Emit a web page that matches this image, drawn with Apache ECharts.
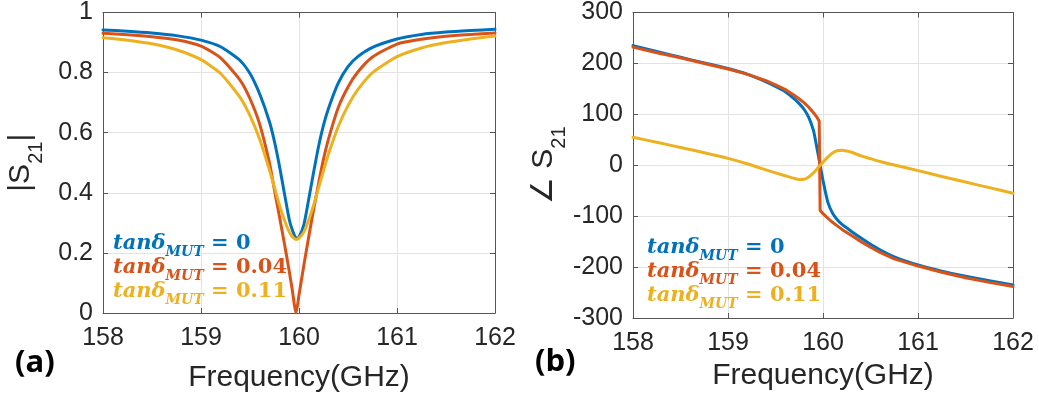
<!DOCTYPE html>
<html>
<head>
<meta charset="utf-8">
<script src="https://cdn.jsdelivr.net/npm/echarts@6/dist/echarts.min.js"></script>
<style>
html,body{margin:0;padding:0;background:#fff;}
#c{width:1039px;height:402px;}
</style>
</head>
<body>
<div id="c"></div>
<script>
// ---- Data ----
const xTicks = [158, 159, 160, 161, 162];

// Panel (a): |S21|
const freqMag = [158, 158.25, 158.5, 158.75, 159, 159.2, 159.4, 159.5, 159.6, 159.7, 159.75, 159.8, 159.85, 159.9, 159.93, 159.97, 160, 160.05, 160.1, 160.15, 160.2, 160.25, 160.3, 160.4, 160.5, 160.6, 160.75, 161, 161.25, 161.5, 161.75, 162];
const magBlue   = [0.942, 0.938, 0.932, 0.923, 0.908, 0.886, 0.840, 0.797, 0.728, 0.635, 0.570, 0.490, 0.400, 0.312, 0.278, 0.250, 0.253, 0.294, 0.380, 0.470, 0.555, 0.625, 0.680, 0.765, 0.820, 0.853, 0.884, 0.912, 0.927, 0.935, 0.940, 0.944];
const magRed    = [0.931, 0.926, 0.919, 0.909, 0.888, 0.849, 0.774, 0.713, 0.627, 0.497, 0.408, 0.322, 0.233, 0.140, 0.080, 0.000, 0.060, 0.160, 0.255, 0.346, 0.432, 0.512, 0.578, 0.683, 0.752, 0.802, 0.852, 0.895, 0.911, 0.921, 0.927, 0.932];
const magYellow = [0.916, 0.908, 0.896, 0.876, 0.843, 0.797, 0.717, 0.657, 0.577, 0.474, 0.417, 0.360, 0.310, 0.270, 0.255, 0.245, 0.249, 0.270, 0.310, 0.360, 0.417, 0.474, 0.528, 0.620, 0.690, 0.743, 0.800, 0.853, 0.882, 0.900, 0.912, 0.922];

// Panel (b): phase of S21 (degrees)
const freqPhase = [158, 158.25, 158.5, 158.75, 159, 159.2, 159.4, 159.5, 159.6, 159.7, 159.75, 159.8, 159.85, 159.9, 159.93, 159.96, 159.97, 160, 160.05, 160.1, 160.15, 160.2, 160.25, 160.3, 160.4, 160.5, 160.6, 160.75, 161, 161.25, 161.5, 161.75, 162];
const phaseBlue   = [235, 223.5, 212, 201, 190, 179, 164, 155, 145, 130, 121, 110, 94, 68, 40, 10, 0, -30, -72, -94, -107, -116, -123, -130, -143, -155, -166, -180, -196, -208, -218, -227, -235];
const phaseRed    = [232, 221, 211, 200, 189, 179, 166, 158, 149, 137, 130, 123, 114, 103, 96, 87, -89, -95, -104, -112, -119, -126, -132, -138, -150, -161, -171, -184, -198, -210, -221, -230, -238];
const phaseYellow = [55, 45, 35, 24.5, 13.5, 3, -9, -15, -20.5, -26, -27.8, -27.5, -23, -15, -9, -2, 0, 6, 16, 24, 28.5, 29.5, 28, 25.5, 18.5, 13, 7.5, 0.5, -10.5, -22, -33, -44, -55];

const legendNames = ['0', '0.04', '0.11'];
const colors = ['#0072BD', '#D95319', '#EDB120'];

// ---- Chart ----
const chart = echarts.init(document.getElementById('c'), null, {renderer: 'canvas'});
const FONT = "'Liberation Sans', Arial, sans-serif";
const TXT = '#262626';

function pairs(xs, ys) { return xs.map((x, i) => [x, ys[i]]); }

function xAxisDef(grid, pos, show, gap) {
  return {
    type: 'value', gridIndex: grid, position: pos, min: 158, max: 162, interval: 1,
    axisLine: {show: true, onZero: false, lineStyle: {color: '#555', width: 1}},
    axisTick: {show: true, inside: true, length: 5, lineStyle: {color: '#555'}},
    axisLabel: {show: show, fontFamily: FONT, fontSize: 25, color: TXT, margin: 13},
    splitLine: {show: show, lineStyle: {color: '#e3e3e3', width: 1}},
    name: show ? 'Frequency(GHz)' : '', nameLocation: 'middle', nameGap: gap || 0,
    nameTextStyle: {fontFamily: FONT, fontSize: 30, color: TXT}
  };
}
function yAxisDef(grid, pos, show, min, max, interval, nameRich, gap) {
  return {
    type: 'value', gridIndex: grid, position: pos, min: min, max: max, interval: interval,
    axisLine: {show: true, onZero: false, lineStyle: {color: '#555', width: 1}},
    axisTick: {show: true, inside: true, length: 5, lineStyle: {color: '#555'}},
    axisLabel: {show: show, fontFamily: FONT, fontSize: 25, color: TXT, margin: 10},
    splitLine: {show: show, lineStyle: {color: '#e3e3e3', width: 1}},
    name: show ? nameRich : '', nameLocation: 'middle', nameGap: gap, nameRotate: 90,
    nameTextStyle: {
      fontFamily: FONT, color: TXT,
      rich: {
        n: {fontFamily: FONT, fontSize: 30, color: TXT, lineHeight: 40, verticalAlign: 'top'},
        s: {fontFamily: FONT, fontSize: 20, color: TXT, lineHeight: 20, verticalAlign: 'bottom'}
      }
    }
  };
}

function lineSeries(xi, yi, data, color, smooth) {
  return {
    type: 'line', xAxisIndex: xi, yAxisIndex: yi, data: data, showSymbol: false,
    smooth: smooth,
    lineStyle: {color: color, width: 3, join: 'round', cap: 'round'}, itemStyle: {color: color}, z: 3
  };
}

function legendText(x, y, name, color) {
  const f = 'DejaVu Serif';
  return {
    type: 'text', left: x, top: y, z: 10,
    style: {
      text: '{i|tanδ}{s|MUT}{e| = ' + name + '}',
      rich: {
        i: {fontFamily: f, fontStyle: 'italic', fontWeight: 'bold', fontSize: 21, fill: color, lineHeight: 26, verticalAlign: 'top'},
        s: {fontFamily: f, fontStyle: 'italic', fontWeight: 'bold', fontSize: 14, fill: color, lineHeight: 14, verticalAlign: 'bottom'},
        e: {fontFamily: f, fontWeight: 'bold', fontSize: 21, fill: color, lineHeight: 26, verticalAlign: 'top'}
      }
    }
  };
}

const option = {
  animation: false,
  backgroundColor: '#fff',
  grid: [
    {left: 103, top: 6, width: 392, height: 307},
    {left: 633, top: 5, width: 380, height: 313}
  ],
  xAxis: [
    xAxisDef(0, 'bottom', true, 50), xAxisDef(0, 'top', false),
    xAxisDef(1, 'bottom', true, 43), xAxisDef(1, 'top', false)
  ],
  yAxis: [
    yAxisDef(0, 'left', true, 0, 1, 0.2, '{n||S}{s|21}{n||}', 57),
    yAxisDef(0, 'right', false, 0, 1, 0.2, '', 0),
    yAxisDef(1, 'left', true, -300, 300, 100, '{n|∠ S}{s|21}', 64),
    yAxisDef(1, 'right', false, -300, 300, 100, '', 0)
  ],
  series: [
    lineSeries(0, 0, pairs(freqMag, magBlue), colors[0], 0.2),
    lineSeries(0, 0, pairs(freqMag, magRed), colors[1], 0.2),
    lineSeries(0, 0, pairs(freqMag, magYellow), colors[2], 0.2),
    lineSeries(2, 2, pairs(freqPhase, phaseBlue), colors[0], 0.2),
    lineSeries(2, 2, pairs(freqPhase, phaseRed), colors[1], false),
    lineSeries(2, 2, pairs(freqPhase, phaseYellow), colors[2], 0.2)
  ],
  graphic: [
    legendText(113, 233, legendNames[0], colors[0]),
    legendText(113, 257, legendNames[1], colors[1]),
    legendText(113, 281, legendNames[2], colors[2]),
    legendText(647, 237, legendNames[0], colors[0]),
    legendText(647, 261, legendNames[1], colors[1]),
    legendText(647, 285, legendNames[2], colors[2]),
    {type: 'text', left: 15, top: 348, style: {text: '(a)', fontFamily: 'Open Sans', fontWeight: 'bold', fontSize: 31, fill: '#000'}},
    {type: 'text', left: 535, top: 347, style: {text: '(b)', fontFamily: 'Open Sans', fontWeight: 'bold', fontSize: 31, fill: '#000'}}
  ]
};
chart.setOption(option);
</script>
</body>
</html>
